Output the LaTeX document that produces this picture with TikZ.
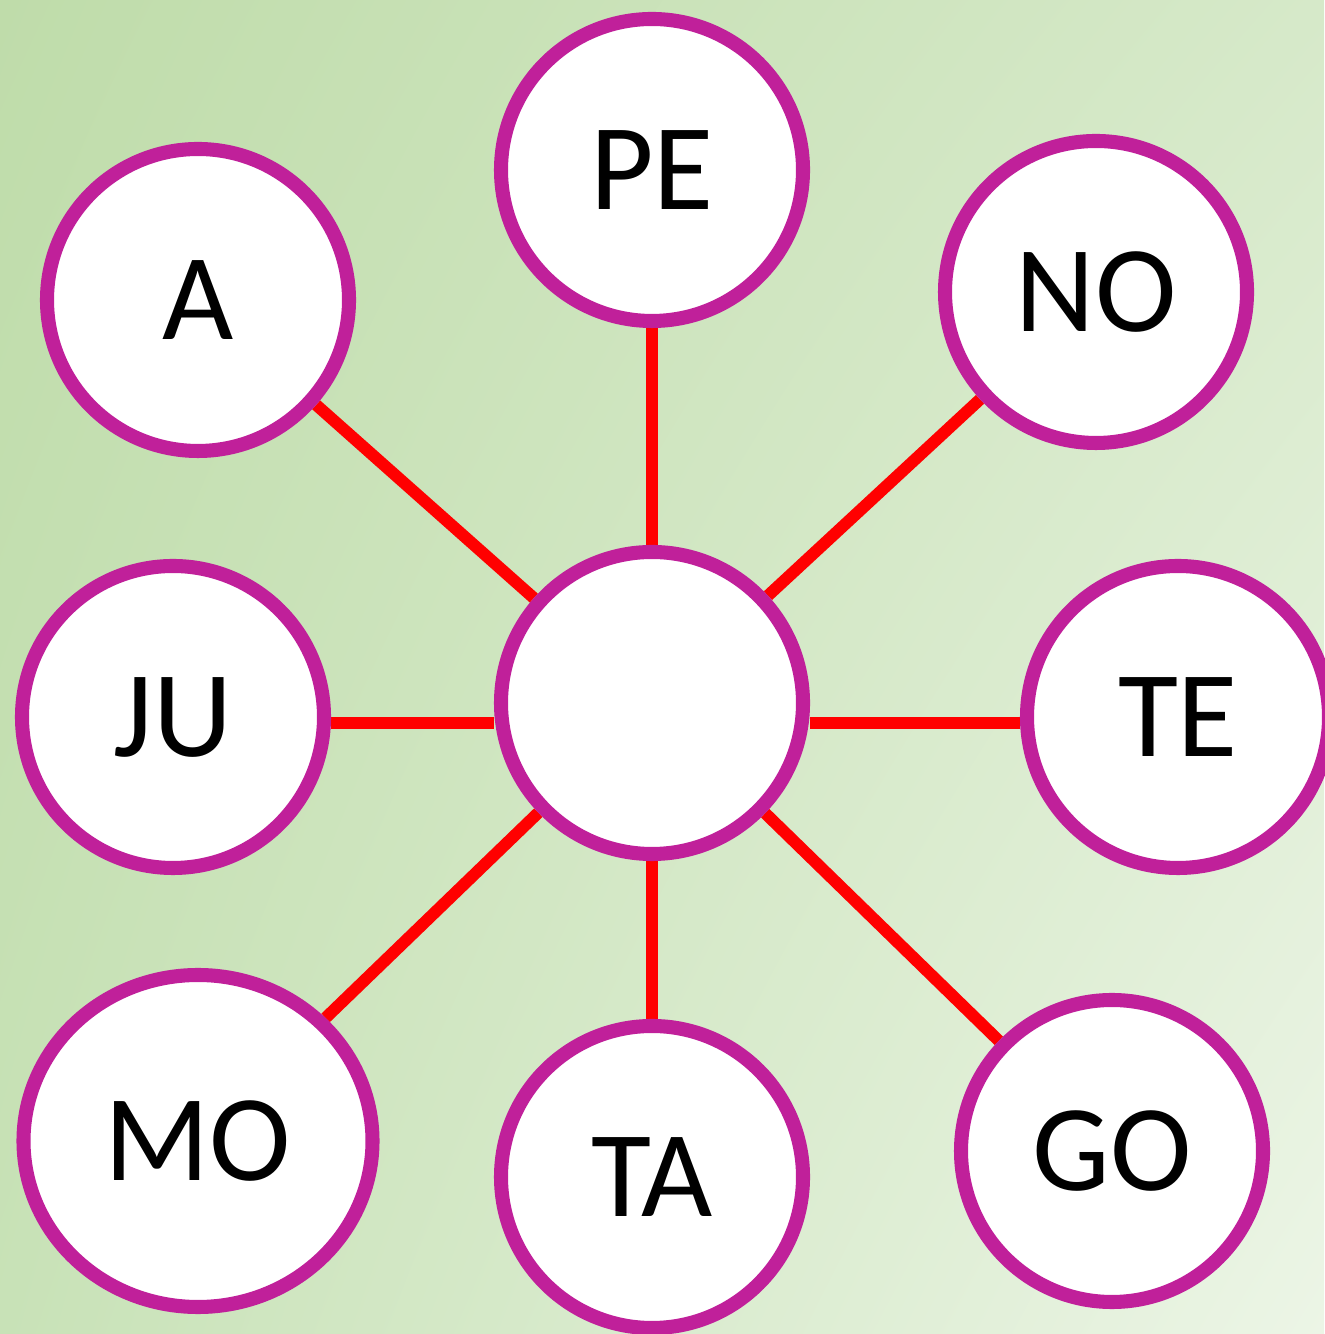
\documentclass[tikz,border=0pt]{standalone}
\usepackage{fontspec}
\setmainfont{Carlito}
\usetikzlibrary{shapes.geometric,backgrounds,shadings}
\definecolor{ringpurple}{RGB}{192,32,154}
\definecolor{bgA}{RGB}{191,220,170}
\definecolor{bgB}{RGB}{214,233,201}
\definecolor{bgC}{RGB}{200,226,183}
\definecolor{bgD}{RGB}{236,245,230}
\tikzset{
  word/.style={circle, draw=ringpurple, line width=4pt, fill=white,
    minimum size=3.02cm, inner sep=0pt, font=\fontsize{35}{40}\selectfont},
  spoke/.style={draw=red, line width=3.4pt}
}
\begin{document}
\begin{tikzpicture}
            \useasboundingbox (0,0) rectangle (13.24,13.34);

            \node[word] (C)  at (6.52,6.31)  {};

            \node[word] (PE) at (6.52,11.64) {PE};
            \node[word] (A)  at (1.98,10.34) {A};
            \node[word] (NO) at (10.96,10.42) {NO};
            \node[word] (JU) at (1.73,6.17)  {JU};
            \node[word] (TE) at (11.78,6.17) {TE};
            \node[word, ellipse, minimum width=3.49cm, minimum height=3.32cm] (MO) at (1.98,1.93) {MO};
            \node[word] (TA) at (6.52,1.57)  {TA};
            \node[word] (GO) at (11.12,1.83) {GO};

            \begin{scope}[on background layer]
            \shade[upper left=bgA, upper right=bgB, lower left=bgC, lower right=bgD]
                (0,0) rectangle (13.24,13.34);
            \draw[spoke] (C) -- (PE);
            \draw[spoke] (C) -- (A);
            \draw[spoke] (C) -- (NO);
            \draw[spoke] ([yshift=-0.06cm]JU.east) -- ([yshift=-0.2cm]C.west);
            \draw[spoke] ([yshift=-0.2cm]C.east) -- ([yshift=-0.06cm]TE.west);
            \draw[spoke] (C) -- (MO);
            \draw[spoke] (C) -- (TA);
            \draw[spoke] (C) -- (GO);
            \end{scope}
\end{tikzpicture}
\end{document}
